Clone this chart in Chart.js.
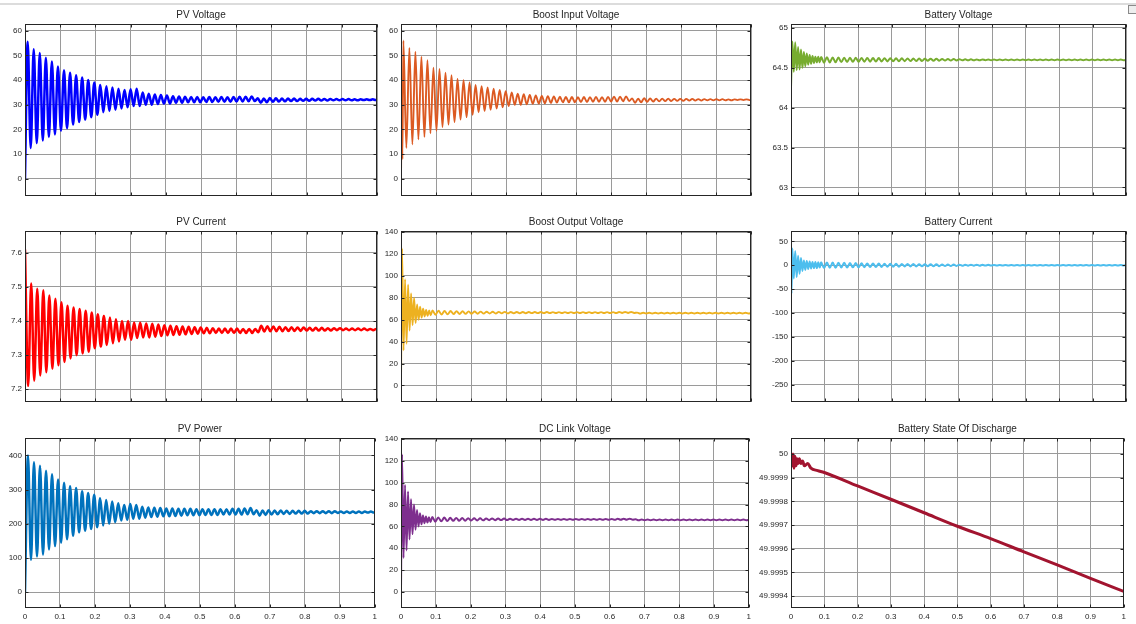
<!DOCTYPE html>
<html lang="en">
<head>
<meta charset="UTF-8">
<title>PV / Boost / Battery Simulation</title>
<script src="https://cdn.jsdelivr.net/npm/chart.js"></script>
<style>
    body { margin: 0; background: #fff; width: 1136px; height: 624px; overflow: hidden; position: relative; }
    #topbar { position: absolute; left: 0; top: 3px; width: 1136px; height: 2px; background: #dcdcdc; }
    #icon { position: absolute; left: 1128px; top: 5px; width: 7px; height: 7px; border: 1px solid #8a8a8a; background: #eee; }
</style>
</head>
<body>
<div id="topbar"></div>
<div id="icon"></div>
<script>
// ---- axis ticks ----
const xTicks = [0, 0.1, 0.2, 0.3, 0.4, 0.5, 0.6, 0.7, 0.8, 0.9, 1];
const pvVoltageTicks = [0, 10, 20, 30, 40, 50, 60];
const pvCurrentTicks = [7.2, 7.3, 7.4, 7.5, 7.6];
const pvPowerTicks = [0, 100, 200, 300, 400];
const boostOutTicks = [0, 20, 40, 60, 80, 100, 120, 140];
const battVTicks = [63, 63.5, 64, 64.5, 65];
const battITicks = [-250, -200, -150, -100, -50, 0, 50];
const sodTicks = [49.9994, 49.9995, 49.9996, 49.9997, 49.9998, 49.9999, 50];

// ---- oscillation periods (s) ----
const PERIOD = 0.0172;       // main ripple
const EARLY_PERIOD = 0.0086; // fast ripple on DC side during start-up

// ---- PV voltage: peaks / troughs per cycle ----
const pvVoltageHi = [55.5,52.5,51,49,47.5,45.5,44,43,42,41, 40,39,38,37.5,37,36.5,36,36.3,36.5,35, 34.5,34.2,34,33.8,33.5,33.4,33.3,33.2,33.2,33.1, 33.2,33.1,33.2,33.1,33.2,33.3,33.3,33.4, 32.6,32.5,32.7, 32.6,32.5,32.5,32.5,32.4,32.4,32.4,32.4,32.3,32.3,32.3,32.3,32.3,32.2,32.2,32.2,32.2];
const pvVoltageLo = [12.5,14.5,15.5,17,18,19.5,20.5,22,23,24, 25,26,27,27.5,28,28.5,29,29.5,29.5,30, 30,30.3,30.5,30.5,30.8,30.8,31,31,31,31.1, 31.1,31.2,31.2,31.2,31.3,31.3,31.4,31.5, 30.8,31,31.2, 31.3,31.4,31.5,31.5,31.6,31.6,31.7,31.7,31.7,31.8,31.8,31.8,31.8,31.8,31.9,31.9,31.9];

// ---- Boost input voltage ----
const boostInStart = [[0, 0], [0.002, 31], [0.004, 8]];
const boostInHi = [56,53,51.5,49.5,48,45,44.5,43,42,40.5, 40,39,38,37.5,37,36.5,36,35.5,35,34.5, 34.3,34,33.8,33.6,33.5,33.4,33.3,33.2,33.2,33.1, 33.2,33.1,33.2,33.1,33.2,33.3,33.3,33.4, 32.6,32.5,32.7, 32.6,32.5,32.5,32.5,32.4,32.4,32.4,32.4,32.3,32.3,32.3,32.3,32.3,32.2,32.2,32.2,32.2];
const boostInLo = [12.5,14,16,17,18.5,19.5,21,22,23,24, 25,26,27,27.5,28,28.5,29,29.5,30,30, 30.2,30.4,30.5,30.6,30.8,30.9,31,31,31,31.1, 31.1,31.2,31.2,31.2,31.3,31.3,31.4,31.5, 30.8,31,31.2, 31.3,31.4,31.5,31.5,31.6,31.6,31.7,31.7,31.7,31.8,31.8,31.8,31.8,31.8,31.9,31.9,31.9];

// ---- PV current (trough comes first) ----
const pvCurrentLo = [7.21,7.225,7.24,7.25,7.26,7.27,7.28,7.29,7.3,7.305, 7.31,7.32,7.325,7.33,7.335,7.34,7.345,7.345,7.35,7.352, 7.352,7.354,7.356,7.358,7.359,7.36,7.361,7.362,7.363,7.364, 7.364,7.365,7.365,7.365,7.365,7.365,7.365,7.365, 7.367,7.369,7.37, 7.37,7.37,7.371,7.371,7.371,7.372,7.372,7.372,7.372,7.372,7.373,7.373,7.373,7.373,7.373,7.373,7.373];
const pvCurrentHi = [7.51,7.495,7.49,7.475,7.465,7.455,7.445,7.44,7.435,7.43, 7.425,7.42,7.415,7.41,7.405,7.4,7.4,7.395,7.395,7.393, 7.392,7.39,7.388,7.386,7.385,7.384,7.383,7.382,7.381,7.38, 7.379,7.378,7.378,7.378,7.378,7.377,7.377,7.377, 7.386,7.385,7.384, 7.383,7.382,7.382,7.381,7.381,7.38,7.38,7.38,7.379,7.379,7.379,7.378,7.378,7.378,7.378,7.377,7.377];

// ---- PV power ----
const pvPowerHi = [400,380,370,355,345,330,320,310,305,295, 290,285,275,270,265,260,255,258,255,250, 248,247,246,245,245,244,244,244,243,243, 243,243,243,243,244,244,245,246, 240,239,240, 239,239,238,238,238,238,237,237,237,237,237,236,236,236,236,236,236];
const pvPowerLo = [95,105,110,125,135,145,155,165,175,180, 185,190,195,200,205,210,212,215,215,218, 220,221,222,222,223,224,225,225,225,226, 226,226,227,227,227,227,228,228, 224,226,227, 228,229,229,230,230,230,231,231,231,231,232,232,232,232,232,233,233];

// ---- Boost output voltage ----
const boostOutEarlyHi = [125,97,92,84,80,74,72,70,69,68.5];
const boostOutEarlyLo = [32,38,50,55,57,60,62,63,63.5,64];
const boostOutHi = [68.5,68.3,68.1,67.9,67.8,67.7,67.6,67.5,67.4,67.3, 67.3,67.2,67.2,67.1,67.1,67.1,67,67,67,67, 66.9,66.9,66.9,66.9,66.9,66.9,66.9,66.9,66.9,66.9, 66.9,67,67,67.1, 66.5, 66.4,66.4,66.4,66.4,66.4,66.4,66.4,66.4,66.4,66.4,66.4,66.4,66.4,66.4,66.4,66.4,66.4,66.4];
const boostOutLo = [64.5,64.7,64.9,65.1,65.2,65.3,65.4,65.5,65.6,65.7, 65.7,65.8,65.8,65.9,65.9,65.9,66,66,66,66, 66.1,66.1,66.1,66.1,66.1,66.1,66.1,66.1,66.1,66.1, 66.1,66.2,66.2,66.2, 65.6, 65.7,65.7,65.7,65.7,65.7,65.7,65.7,65.7,65.7,65.7,65.7,65.7,65.7,65.7,65.7,65.7,65.7,65.7];

// ---- DC link voltage ----
const dcLinkEarlyHi = [126,98,92,85,80,75,72,70,69,68.5];
const dcLinkEarlyLo = [31,38,48,53,57,60,62,63,63.5,64];
const dcLinkHi = [68.6,68.3,68.1,67.9,67.8,67.7,67.6,67.5,67.4,67.3, 67.3,67.2,67.2,67.1,67.1,67.1,67,67,67,67, 66.9,66.9,66.9,66.9,66.9,66.9,66.9,66.9,66.9,66.9, 66.9,67,67,67.1, 66.5, 66.4,66.4,66.4,66.4,66.4,66.4,66.4,66.4,66.4,66.4,66.4,66.4,66.4,66.4,66.4,66.4,66.4,66.4];
const dcLinkLo = [64.4,64.7,64.9,65.1,65.2,65.3,65.4,65.5,65.6,65.7, 65.7,65.8,65.8,65.9,65.9,65.9,66,66,66,66, 66.1,66.1,66.1,66.1,66.1,66.1,66.1,66.1,66.1,66.1, 66.1,66.2,66.2,66.2, 65.6, 65.7,65.7,65.7,65.7,65.7,65.7,65.7,65.7,65.7,65.7,65.7,65.7,65.7,65.7,65.7,65.7,65.7,65.7];

// ---- Battery voltage ----
const battVStart = [[0, 64.25]];
const battVEarlyHi = [64.83,64.82,64.76,64.73,64.7,64.68,64.66,64.65,64.64,64.64];
const battVEarlyLo = [64.45,64.47,64.48,64.5,64.52,64.54,64.55,64.56,64.57,64.57];
const battVHi = [64.635,64.632,64.63,64.63,64.628,64.627,64.626,64.625,64.624,64.623, 64.622,64.621,64.62,64.62,64.619,64.618,64.617,64.616,64.615,64.614, 64.613,64.612,64.611,64.61,64.609,64.608,64.607,64.606,64.606,64.605, 64.605,64.605,64.605,64.605,64.605,64.605,64.605,64.605,64.605,64.605,64.605,64.605,64.605,64.605,64.605,64.605,64.605,64.605,64.605,64.605,64.605,64.605,64.605];
const battVLo = [64.565,64.568,64.57,64.572,64.574,64.575,64.576,64.577,64.578,64.579, 64.58,64.581,64.582,64.583,64.584,64.585,64.586,64.587,64.588,64.589, 64.59,64.591,64.592,64.593,64.594,64.594,64.595,64.595,64.596,64.596, 64.596,64.596,64.596,64.596,64.596,64.596,64.596,64.596,64.596,64.596,64.596,64.596,64.596,64.596,64.596,64.596,64.596,64.596,64.596,64.596,64.596,64.596,64.596];

// ---- Battery current ----
const battIStart = [[0, 0], [0.0015, -60]];
const battIEarlyHi = [35,30,20,15,10,9,8,7,7,6];
const battIEarlyLo = [-28,-25,-18,-12,-10,-8,-7,-6,-6,-5];
const battIHi = [6,5.5,5.5,5,5,4.5,4.5, 4,3.5,3.5,3.5,3,3, 3,2.5,2.5,2.5,2,2,2,2,1.5,1.5,1.5, 1.2,1,1,1,0.8,0.8, 0.5,0.5,0.5,0.5,0.5,0.5,0.5,0.5,0.5,0.5,0.5,0.5,0.5,0.5,0.5,0.5,0.5,0.5,0.5,0.5,0.5,0.5,0.5];
const battILo = [-6,-5.5,-5.5,-5,-5,-4.5,-4.5, -4,-3.5,-3.5,-3.5,-3,-3, -3,-2.5,-2.5,-2.5,-2,-2,-2,-2,-1.5,-1.5,-1.5, -1.2,-1,-1,-1,-0.8,-0.8, -0.5,-0.5,-0.5,-0.5,-0.5,-0.5,-0.5,-0.5,-0.5,-0.5,-0.5,-0.5,-0.5,-0.5,-0.5,-0.5,-0.5,-0.5,-0.5,-0.5,-0.5,-0.5,-0.5];

// ---- Battery state of discharge ----
const sodTimes = [0,0.003,0.006,0.009,0.012,0.015,0.018,0.021,0.025,0.03,0.035,0.04,0.05,0.06,0.08,0.1,0.2,0.3,0.4,0.5,0.6,0.7,0.8,0.9,1];
const sodValues = [49.99999,49.99995,50,49.99994,49.99999,49.99995,49.99998,49.99996,49.99998,49.99996,49.99997,49.99995,49.99996,49.99994,49.99993,49.999922,49.999865,49.999809,49.999752,49.999695,49.999643,49.999587,49.999532,49.999475,49.99942];

// alternate the read peak/trough values, one pair per ripple cycle
function ripple(start, segments, end) {
    const pts = start.map(p => ({ x: p[0], y: p[1] }));
    segments.forEach(s => {
        for (let k = 0; k < s.a.length; k++) {
            pts.push({ x: s.t0 + k * s.period, y: s.a[k] });
            pts.push({ x: s.t0 + (k + 0.5) * s.period, y: s.b[k] });
        }
    });
    end.forEach(p => pts.push({ x: p[0], y: p[1] }));
    return pts;
}

const FONT = "'Liberation Sans', Arial, sans-serif";
const GRID = '#9a9a9a';
const INK = '#262626';

const col = [[25, 377, 25], [401, 751, 22], [791, 1126, 35]];
const row = [[24, 202, false], [231, 408, false], [438, 608, true]];

const panels = [
    { title: 'PV Voltage', c: 0, r: 0, color: '#0000ff', lw: 2.5, yMin: -7, yMax: 62.7, ticks: pvVoltageTicks,
      data: ripple([[0, 0]], [{ t0: 0.0076, period: PERIOD, a: pvVoltageHi, b: pvVoltageLo }], [[1, 32.05]]) },
    { title: 'Boost Input Voltage', c: 1, r: 0, color: '#dc5a22', lw: 1.9, yMin: -7, yMax: 62.7, ticks: pvVoltageTicks,
      data: ripple(boostInStart, [{ t0: 0.0067, period: PERIOD, a: boostInHi, b: boostInLo }], [[1, 32.05]]) },
    { title: 'Battery Voltage', c: 2, r: 0, color: '#77ac30', lw: 2, yMin: 62.89, yMax: 65.05, ticks: battVTicks,
      data: ripple(battVStart, [{ t0: 0.004, period: EARLY_PERIOD, a: battVEarlyHi, b: battVEarlyLo },
                                { t0: 0.09, period: PERIOD, a: battVHi, b: battVLo }], [[1, 64.6]]) },
    { title: 'PV Current', c: 0, r: 1, color: '#ff0000', lw: 2.5, yMin: 7.162, yMax: 7.664, ticks: pvCurrentTicks,
      data: ripple([[0, 7.61]], [{ t0: 0.009, period: PERIOD, a: pvCurrentLo, b: pvCurrentHi }], [[1, 7.375]]) },
    { title: 'Boost Output Voltage', c: 1, r: 1, color: '#edb120', lw: 1.9, yMin: -15.3, yMax: 141, ticks: boostOutTicks,
      data: ripple([[0, 0]], [{ t0: 0.003, period: EARLY_PERIOD, a: boostOutEarlyHi, b: boostOutEarlyLo },
                              { t0: 0.09, period: PERIOD, a: boostOutHi, b: boostOutLo }], [[1, 66.05]]) },
    { title: 'Battery Current', c: 2, r: 1, color: '#4dbeee', lw: 2, yMin: -287, yMax: 71.7, ticks: battITicks,
      data: ripple(battIStart, [{ t0: 0.004, period: EARLY_PERIOD, a: battIEarlyHi, b: battIEarlyLo },
                                { t0: 0.09, period: PERIOD, a: battIHi, b: battILo }], [[1, 0]]) },
    { title: 'PV Power', c: 0, r: 2, color: '#0072bd', lw: 2.5, yMin: -46, yMax: 451, ticks: pvPowerTicks,
      data: ripple([[0, 0]], [{ t0: 0.0085, period: PERIOD, a: pvPowerHi, b: pvPowerLo }], [[1, 234.5]]) },
    { title: 'DC Link Voltage', c: 1, r: 2, color: '#7e2f8e', lw: 2, yMin: -14.7, yMax: 141, ticks: boostOutTicks,
      data: ripple([[0, 0]], [{ t0: 0.003, period: EARLY_PERIOD, a: dcLinkEarlyHi, b: dcLinkEarlyLo },
                              { t0: 0.09, period: PERIOD, a: dcLinkHi, b: dcLinkLo }], [[1, 66.05]]) },
    { title: 'Battery State Of Discharge', c: 2, r: 2, color: '#a2142f', lw: 3, yMin: 49.99935, yMax: 50.0000675, ticks: sodTicks,
      data: sodTimes.map((t, i) => ({ x: t, y: sodValues[i] })) }
];

const fmt = v => String(+(+v).toFixed(4));

// MATLAB-style box with inward tick marks
const frame = {
    id: 'frame',
    afterDraw(chart) {
        const { ctx, chartArea: a, scales } = chart;
        const L = Math.round(a.left) + 0.5, T = Math.round(a.top) + 0.5;
        const R = Math.round(a.right) - 0.5, B = Math.round(a.bottom) - 0.5;
        ctx.save();
        ctx.strokeStyle = INK;
        ctx.lineWidth = 1;
        ctx.strokeRect(L, T, R - L, B - T);
        ctx.beginPath();
        scales.x.ticks.forEach(t => {
            const x = Math.round(scales.x.getPixelForValue(t.value)) + 0.5;
            ctx.moveTo(x, B); ctx.lineTo(x, B - 3);
            ctx.moveTo(x, T); ctx.lineTo(x, T + 3);
        });
        scales.y.ticks.forEach(t => {
            const y = Math.round(scales.y.getPixelForValue(t.value)) + 0.5;
            ctx.moveTo(L, y); ctx.lineTo(L + 3, y);
            ctx.moveTo(R, y); ctx.lineTo(R - 3, y);
        });
        ctx.stroke();
        ctx.restore();
    }
};

panels.forEach(p => {
    const [L, R, axisW] = col[p.c];
    const [T, B, showX] = row[p.r];
    const xH = showX ? 16 : 2;
    const left = L - axisW, top = T - 20;
    const w = R - left + 4, h = B - top + xH;
    const cv = document.createElement('canvas');
    cv.width = w; cv.height = h;
    cv.style.cssText = `position:absolute;left:${left}px;top:${top}px;width:${w}px;height:${h}px`;
    document.body.appendChild(cv);

    new Chart(cv, {
        type: 'line',
        data: {
            datasets: [{
                data: p.data,
                borderColor: p.color,
                borderWidth: p.lw,
                pointRadius: 0,
                cubicInterpolationMode: 'monotone'
            }]
        },
        options: {
            responsive: false,
            animation: false,
            parsing: false,
            layout: { padding: { right: 4 } },
            plugins: {
                legend: { display: false },
                tooltip: { enabled: false },
                title: {
                    display: true, text: p.title, fullSize: false, color: INK,
                    font: { family: FONT, size: 10, weight: 'normal' },
                    padding: { top: 5.5, bottom: 2.5 }
                }
            },
            scales: {
                x: {
                    type: 'linear', min: 0, max: 1,
                    afterBuildTicks: s => { s.ticks = xTicks.map(v => ({ value: v })); },
                    afterFit: s => { s.height = xH; },
                    grid: { color: GRID, drawTicks: false },
                    border: { display: false },
                    ticks: { display: showX, padding: 4, maxRotation: 0, autoSkip: false, color: INK,
                             font: { family: FONT, size: 8 }, callback: fmt }
                },
                y: {
                    type: 'linear', min: p.yMin, max: p.yMax,
                    afterBuildTicks: s => { s.ticks = p.ticks.map(v => ({ value: v })); },
                    afterFit: s => { s.width = axisW; },
                    grid: { color: GRID, drawTicks: false },
                    border: { display: false },
                    ticks: { padding: 3, autoSkip: false, color: INK,
                             font: { family: FONT, size: 8 }, callback: fmt }
                }
            }
        },
        plugins: [frame]
    });
});
</script>
</body>
</html>
